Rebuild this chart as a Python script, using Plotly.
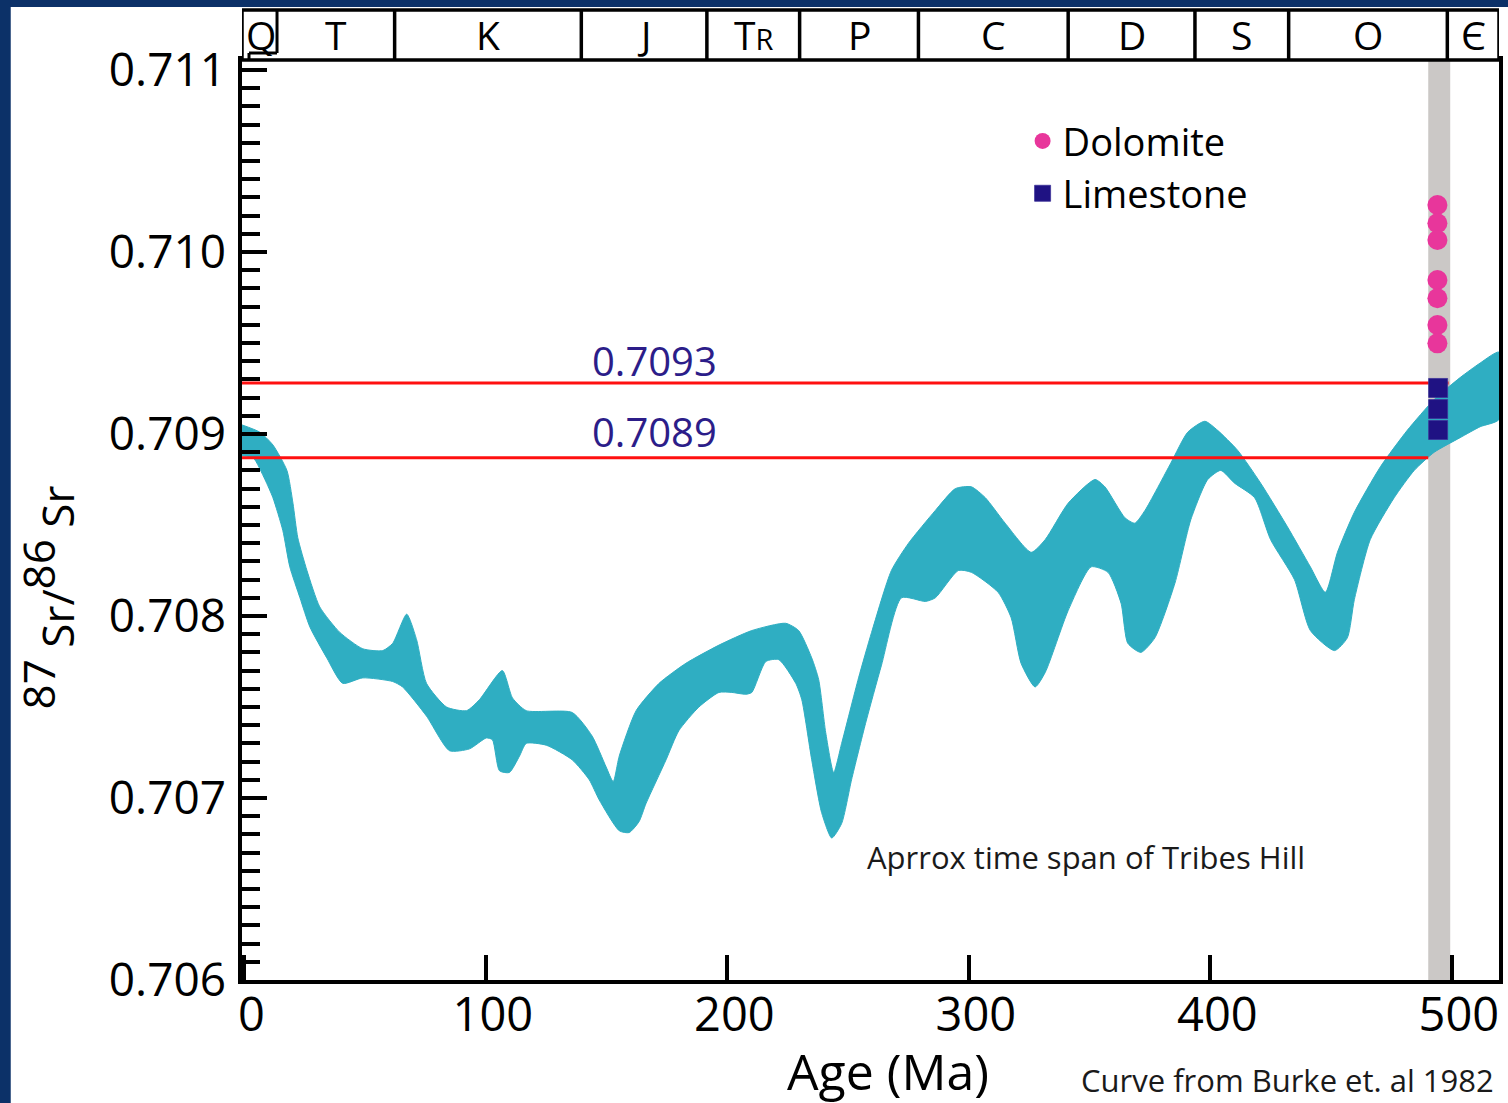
import plotly.graph_objects as go

# ---------------- data ----------------
# Burke et al. (1982) seawater 87Sr/86Sr envelope: upper and lower edge
age_upper = [-1.0, 6.4, 11.8, 17.6, 20.1, 22.1, 25.9, 31.2, 39.5, 49.0, 57.3, 61.4, 67.2, 71.3,
             75.4, 83.7, 92.0, 97.3, 106.8, 111.0, 116.7, 135.7, 144.0, 149.8, 152.7, 155.2,
             162.2, 171.7, 182.8, 196.5, 210.1, 224.1, 229.5, 234.9, 237.8, 240.7, 244.0,
             247.3, 254.3, 259.7, 267.9, 275.0, 286.1, 294.4, 301.0, 306.8, 315.0, 325.8,
             331.6, 341.1, 352.2, 356.3, 364.6, 368.7, 372.9, 383.6, 390.6, 397.7, 403.0,
             411.3, 420.8, 431.9, 441.4, 447.6, 452.6, 459.6, 470.4, 481.5, 492.7, 503.4,
             511.7, 519.5]
sr_upper = [0.70905, 0.70901, 0.70894, 0.70880, 0.70862, 0.70843, 0.70825, 0.70805, 0.70791,
            0.70782, 0.70781, 0.70785, 0.70801, 0.70787, 0.70763, 0.70750, 0.70748, 0.70754,
            0.70770, 0.70755, 0.70748, 0.70747, 0.70734, 0.70717, 0.70709, 0.70723, 0.70748,
            0.70763, 0.70774, 0.70784, 0.70792, 0.70796, 0.70792, 0.70777, 0.70765, 0.70736,
            0.70714, 0.70730, 0.70766, 0.70791, 0.70825, 0.70840, 0.70858, 0.70870, 0.70871,
            0.70865, 0.70851, 0.70835, 0.70842, 0.70862, 0.70875, 0.70871, 0.70854, 0.70851,
            0.70858, 0.70884, 0.70901, 0.70907, 0.70902, 0.70891, 0.70873, 0.70849, 0.70827,
            0.70813, 0.70835, 0.70857, 0.70882, 0.70902, 0.70919, 0.70931, 0.70939, 0.70945]
age_lower = [-1.0, 3.6, 8.5, 11.8, 15.9, 18.8, 23.0, 27.1, 34.1, 40.7, 49.0, 61.4, 65.5, 75.4,
             84.9, 93.2, 100.2, 102.7, 105.6, 109.7, 113.9, 116.7, 125.0, 135.7, 142.8, 146.9,
             155.2, 159.3, 163.4, 166.3, 174.6, 179.9, 188.2, 196.5, 201.8, 207.6, 210.1,
             215.9, 221.3, 228.3, 230.8, 234.9, 239.0, 243.2, 247.3, 251.4, 257.2, 263.8,
             272.1, 282.0, 286.1, 295.6, 301.0, 312.1, 317.5, 321.6, 327.4, 331.6, 341.1,
             350.6, 357.6, 363.0, 365.8, 371.2, 377.0, 385.3, 391.9, 398.9, 404.3, 410.0,
             418.3, 424.9, 434.8, 441.4, 451.4, 456.7, 459.6, 466.2, 476.1, 484.4, 492.7,
             503.4, 511.7, 519.5]
sr_lower = [0.70888, 0.70887, 0.70875, 0.70865, 0.70847, 0.70827, 0.70810, 0.70794, 0.70777,
            0.70763, 0.70766, 0.70764, 0.70761, 0.70745, 0.70726, 0.70727, 0.70733, 0.70732,
            0.70715, 0.70714, 0.70723, 0.70730, 0.70729, 0.70721, 0.70710, 0.70699, 0.70682,
            0.70681, 0.70687, 0.70697, 0.70721, 0.70737, 0.70750, 0.70758, 0.70758, 0.70757,
            0.70758, 0.70775, 0.70776, 0.70763, 0.70754, 0.70721, 0.70692, 0.70678, 0.70686,
            0.70710, 0.70741, 0.70773, 0.70810, 0.70808, 0.70810, 0.70825, 0.70824, 0.70813,
            0.70799, 0.70774, 0.70761, 0.70769, 0.70803, 0.70827, 0.70824, 0.70807, 0.70785,
            0.70780, 0.70788, 0.70818, 0.70853, 0.70875, 0.70880, 0.70873, 0.70865, 0.70842,
            0.70820, 0.70792, 0.70781, 0.70788, 0.70809, 0.70842, 0.70865, 0.70880, 0.70890,
            0.70898, 0.70904, 0.70908]

dolomite_age = [494.0, 494.0, 494.0, 494.0, 494.0, 494.0, 494.0]
dolomite_sr = [0.710258, 0.710158, 0.710066, 0.709846, 0.709746, 0.709599, 0.709498]
limestone_age = [494.3, 494.3, 494.3]
limestone_sr = [0.709253, 0.709137, 0.709022]

ref_values = [0.70928, 0.70887]          # drawn positions of the two red lines
ref_labels = ["0.7093", "0.7089"]
ref_line_end = [498.6, 490.2]
ref_label_age = 170

tribes_hill_span = [490.2, 499.3]

period_names = ["Q", "T", "K", "J", "T<span style='font-size:29px'>R</span>", "P", "C", "D",
                "S", "O", "Є"]
period_bounds = [0.0, 13.5, 62.2, 139.5, 191.5, 229.9, 279.1, 341.1, 393.6, 432.4, 498.1, 519.5]

x_ticks = [0, 100, 200, 300, 400, 500]
x_range = [-1.0, 519.5]
y_range = [0.706, 0.711055]

# ---------------- styling ----------------
TEAL = "#2FAEC2"
RED = "#FF1010"
PINK = "#E8369B"
NAVY_MARK = "#1F1283"
LABEL_BLUE = "#2C1D89"
GRAY = "#CBC8C6"
FRAME = "#0C3168"
FONT = "Open Sans, Noto Sans, DejaVu Sans, sans-serif"

fig = go.Figure()

# Sr envelope (closed polygon)
fig.add_trace(go.Scatter(
    x=age_upper + age_lower[::-1],
    y=sr_upper + sr_lower[::-1],
    mode="lines", fill="toself", fillcolor=TEAL,
    line=dict(color=TEAL, width=1, shape="spline", smoothing=0.6),
    hoverinfo="skip", showlegend=False))

# red reference lines
for v, xe in zip(ref_values, ref_line_end):
    fig.add_trace(go.Scatter(x=[x_range[0], xe], y=[v, v], mode="lines",
                             line=dict(color=RED, width=3), hoverinfo="skip",
                             showlegend=False))

fig.add_trace(go.Scatter(x=dolomite_age, y=dolomite_sr, mode="markers", name="Dolomite",
                         marker=dict(symbol="circle", size=20, color=PINK, line=dict(width=0))))
fig.add_trace(go.Scatter(x=limestone_age, y=limestone_sr, mode="markers", name="Limestone",
                         marker=dict(symbol="square", size=19, color=NAVY_MARK,
                                     line=dict(width=0.8, color="#3E3299"))))

shapes = []
# gray band: approximate time span of Tribes Hill
shapes.append(dict(type="rect", xref="x", yref="y domain", x0=tribes_hill_span[0],
                   x1=tribes_hill_span[1], y0=0, y1=1, fillcolor=GRAY,
                   line=dict(width=0), layer="below"))

# geologic time-scale bar above the plot
bar_bottom = 1.0
bar_top = 1 + 50 / 920
shapes.append(dict(type="rect", xref="x", yref="paper", x0=x_range[0], x1=x_range[1],
                   y0=bar_bottom, y1=bar_top, line=dict(color="black", width=3.5),
                   fillcolor="white"))
for b in period_bounds[2:-1]:
    shapes.append(dict(type="line", xref="x", yref="paper", x0=b, x1=b, y0=bar_bottom,
                       y1=bar_top, line=dict(color="black", width=3.5)))
# small inner Q box
q_step = 1 + 7 / 920
shapes.append(dict(type="line", xref="x", yref="paper", x0=period_bounds[1], x1=period_bounds[1],
                   y0=q_step, y1=bar_top, line=dict(color="black", width=3)))
shapes.append(dict(type="line", xref="x", yref="paper", x0=1.9, x1=period_bounds[1],
                   y0=q_step, y1=q_step, line=dict(color="black", width=3)))
shapes.append(dict(type="line", xref="x", yref="paper", x0=1.9, x1=1.9,
                   y0=bar_bottom, y1=q_step, line=dict(color="black", width=3)))

# dark frame of the slide
shapes.append(dict(type="rect", xref="paper", yref="paper", x0=-0.2, x1=1.01,
                   y0=1 + 53 / 920, y1=1.1, fillcolor=FRAME, line=dict(width=0)))
shapes.append(dict(type="rect", xref="paper", yref="paper", x0=-0.2, x1=(10 - 242) / 1261,
                   y0=-0.2, y1=1.1, fillcolor=FRAME, line=dict(width=0)))

annotations = []
for i, name in enumerate(period_names):
    xc = (period_bounds[i] + period_bounds[i + 1]) / 2
    annotations.append(dict(x=xc, y=(bar_bottom + bar_top) / 2, xref="x", yref="paper",
                            text=name, showarrow=False, font=dict(size=39, color="black"),
                            xanchor="center", yanchor="middle"))

for v, lab, ys in zip(ref_values, ref_labels, [23, 26]):
    annotations.append(dict(x=ref_label_age, y=v, xref="x", yref="y", text=lab,
                            showarrow=False, font=dict(size=40, color=LABEL_BLUE),
                            xanchor="center", yanchor="middle", yshift=ys))

annotations.append(dict(x=348.5, y=0.706676, xref="x", yref="y",
                        text="Aprrox time span of Tribes Hill", showarrow=False,
                        font=dict(size=31, color="#1A1A1A"), xanchor="center",
                        yanchor="middle"))
annotations.append(dict(x=0.8317, y=-0.1090, xref="paper", yref="paper",
                        text="Curve from Burke et. al 1982", showarrow=False,
                        font=dict(size=31, color="#1A1A1A"), xanchor="center",
                        yanchor="middle"))
annotations.append(dict(x=0.514, y=-0.0990, xref="paper", yref="paper",
                        text="Age (Ma)", showarrow=False,
                        font=dict(size=50, color="black"), xanchor="center",
                        yanchor="middle"))
annotations.append(dict(x=-0.1548, y=0.4163, xref="paper", yref="paper",
                        text=("<sup><span style='font-size:44px'>87</span></sup> Sr/"
                              "<sup><span style='font-size:44px'>86</span></sup> Sr"),
                        textangle=-90,
                        showarrow=False, font=dict(size=44, color="black"),
                        xanchor="center", yanchor="middle"))

fig.update_layout(
    width=1508, height=1103,
    margin=dict(l=242, r=5, t=60, b=123),
    paper_bgcolor="white", plot_bgcolor="white",
    font=dict(family=FONT, color="black"),
    shapes=shapes, annotations=annotations,
    showlegend=True,
    legend=dict(x=0.621, y=0.946, xanchor="left", yanchor="top",
                bgcolor="rgba(0,0,0,0)", font=dict(size=38, color="black"),
                itemsizing="trace", tracegroupgap=0),
    xaxis=dict(range=x_range, tickvals=x_ticks, ticks="inside", ticklen=25,
               tickwidth=3.5, tickcolor="black", showline=True, linewidth=3.5,
               linecolor="black", mirror=True, showgrid=False, zeroline=False,
               tickfont=dict(size=47, color="black"), ticklabelstandoff=-9,
               ticklabelshift=7),
    yaxis=dict(range=y_range, tick0=0.706, dtick=0.001, tickformat=".3f",
               ticks="inside", ticklen=25, tickwidth=3.5, tickcolor="black",
               showline=True, linewidth=3.5, linecolor="black", mirror=True,
               showgrid=False, zeroline=False,
               tickfont=dict(size=46, color="black"), ticklabelstandoff=3,
               minor=dict(dtick=0.0001, tick0=0.706, ticks="inside", ticklen=18,
                          tickwidth=3.5, tickcolor="black", showgrid=False)),
)

fig.write_html("out.html", config={"displayModeBar": False},
               post_script="document.body.style.margin='0';document.body.style.padding='0';")
